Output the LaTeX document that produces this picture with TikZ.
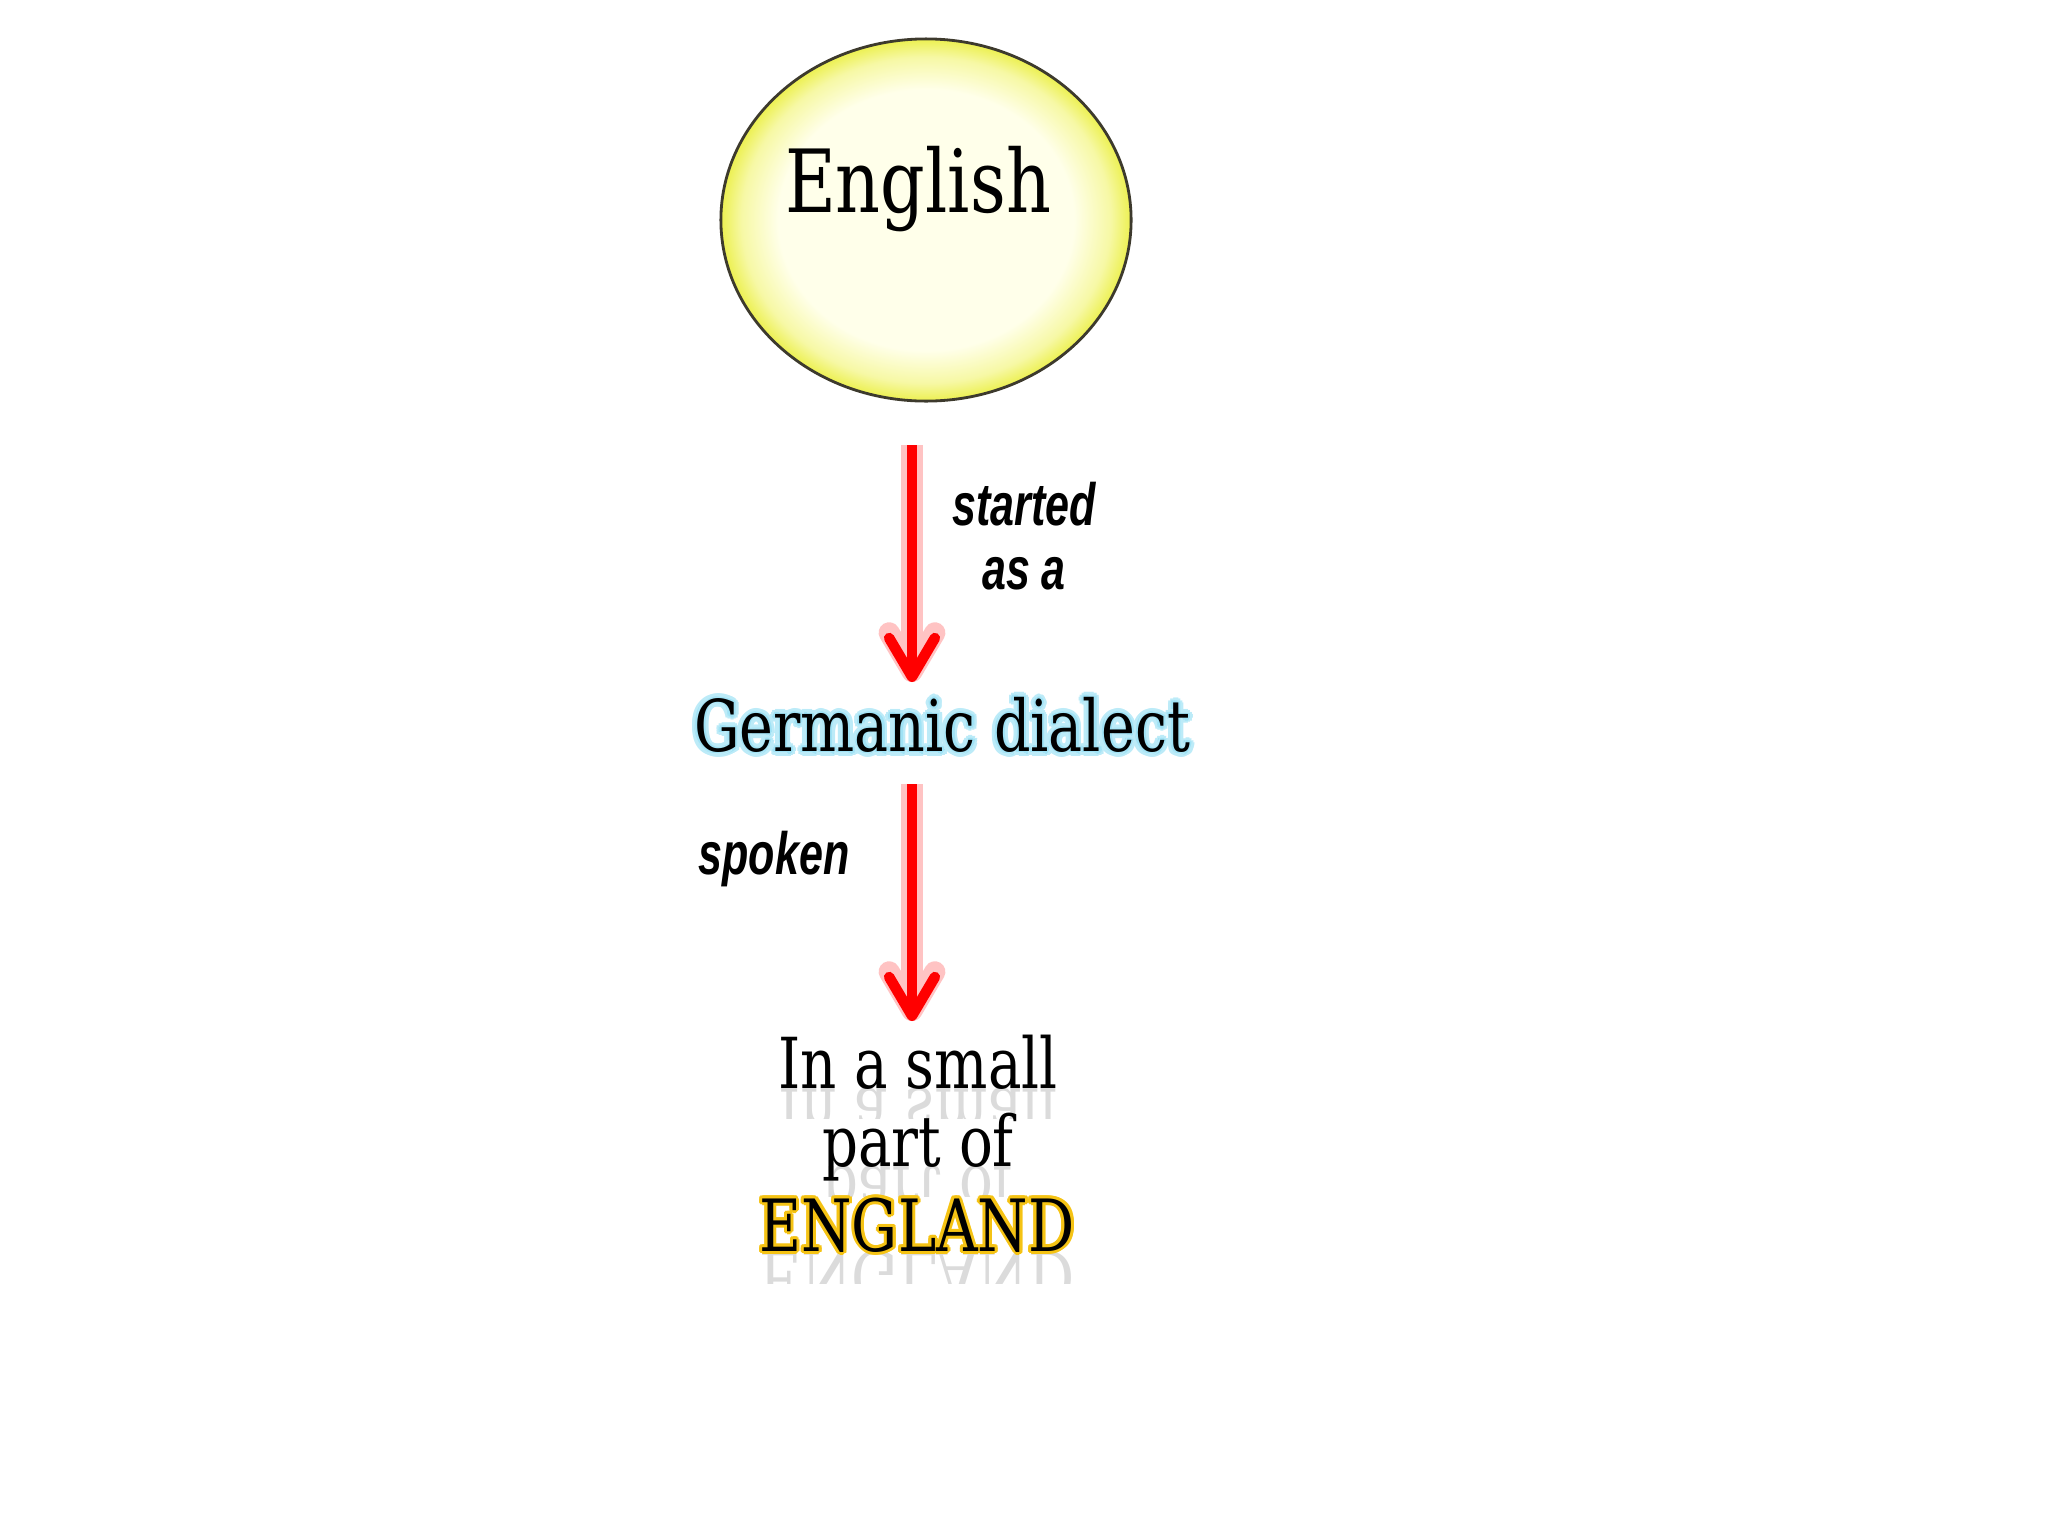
\documentclass[tikz,border=0pt]{standalone}
\usepackage{fontspec}
\usepackage{tikz}
\usetikzlibrary{arrows.meta, shapes.geometric}
\setmainfont{DejaVu Serif}[FakeStretch=0.8]
\newfontfamily\labelfont[FakeStretch=0.72]{Liberation Sans}
\definecolor{rim}{RGB}{236,240,80}
\definecolor{core}{RGB}{255,255,234}
\definecolor{glowblue}{RGB}{160,226,245}
\definecolor{glowgold}{RGB}{245,195,20}
\definecolor{glowred}{RGB}{255,195,195}
\pgfdeclareradialshading{ball}{\pgfpoint{0bp}{0bp}}{color(0bp)=(core); color(18bp)=(core); color(22.5bp)=(rim!45!core); color(25bp)=(rim); color(50bp)=(rim)}

\begin{document}
\begin{tikzpicture}[x=0.01cm, y=-0.01cm,
fancy/.style={font=\fontsize{20}{22}\selectfont, inner sep=0pt},
tag/.style={font=\labelfont\bfseries\itshape\fontsize{17}{18}\selectfont, align=center, inner sep=0pt},
link/.style={draw=red, line width=3pt, -{Straight Barb[length=11pt, width=13pt, round]},
  preaction={draw=glowred, line width=6pt, -{Straight Barb[length=11pt, width=13pt, round]}}},
mirror/.style={fancy, anchor=base, transform shape, text=black!14}]
\useasboundingbox (0,0) rectangle (2048,1536);

% top ball
\node[ellipse, draw=black!75!olive, line width=0.8pt, shading=ball, minimum width=4.1cm, minimum height=3.62cm] (ball) at (926,220) {};
\node[fancy, font=\fontsize{24.8}{28}\selectfont, anchor=base] (english) at (918,212) {English};

% first link
\coordinate (linkAtop) at (912,445);
\coordinate (linkAend) at (912,682);
\draw[link] (linkAtop) -- (linkAend);
\node[tag] (started) at (1024,536) {started\\as a};

% Germanic dialect with glow
\foreach \a in {0,30,...,330}{
\node[fancy, font=\fontsize{20.3}{22}\selectfont, text=glowblue!70, shift={(\a:5)}] (glowo\a) at (942,725) {Germanic dialect};
\node[fancy, font=\fontsize{20.3}{22}\selectfont, text=glowblue, shift={(\a:2.5)}] (glowi\a) at (942,725) {Germanic dialect};
}
\node[fancy, font=\fontsize{20.3}{22}\selectfont] (germanic) at (942,725) {Germanic dialect};

% second link
\coordinate (linkBtop) at (912,784);
\coordinate (linkBend) at (912,1021);
\draw[link] (linkBtop) -- (linkBend);
\node[tag] (spoken) at (774,859) {spoken};

% bottom lines with reflections
\foreach \n/\y/\t in {small/1088/In a small, part/1166/part of}{
\begin{scope}[shift={(918,\y)}, yscale=-1]
\clip (-250,0) rectangle (250,-30);
\node[mirror] (mirror\n) at (0,0) {\t};
\end{scope}
\node[fancy, anchor=base] (\n) at (918,\y) {\t};
}
\begin{scope}[shift={(917,1251)}, yscale=-1]
\clip (-250,0) rectangle (250,-32);
\node[mirror, font=\fontsize{20.5}{22}\selectfont] (mirrorengland) at (0,0) {ENGLAND};
\end{scope}
\foreach \a in {0,30,...,330}{
\node[fancy, font=\fontsize{20.5}{22}\selectfont, anchor=base, text=glowgold, shift={(\a:3)}] (glowe\a) at (917,1251) {ENGLAND};
}
\node[fancy, font=\fontsize{20.5}{22}\selectfont, anchor=base] (england) at (917,1251) {ENGLAND};
\end{tikzpicture}
\end{document}
